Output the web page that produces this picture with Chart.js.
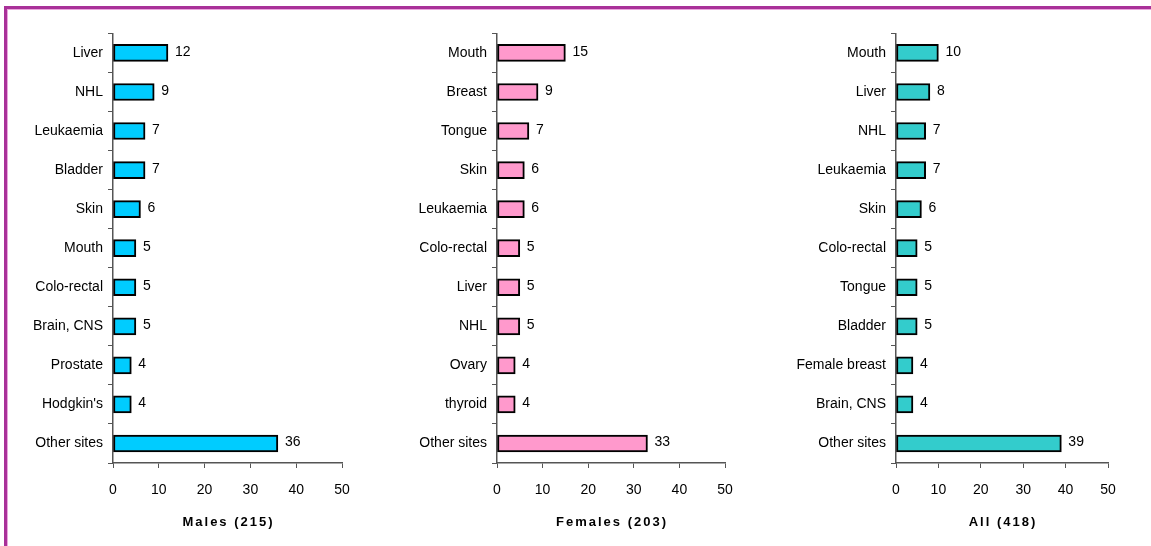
<!DOCTYPE html>
<html>
<head>
<meta charset="utf-8">
<script src="https://cdn.jsdelivr.net/npm/chart.js@4"></script>
<style>
  body { margin: 0; background: #fff; width: 1151px; height: 546px; overflow: hidden; position: relative; }
  #marco { position: absolute; left: 4px; top: 6px; width: 1160px; height: 560px;
           border-top: 3px solid #a93199; border-left: 3px solid #a93199; }
  #marco2 { position: absolute; left: 7px; top: 9px; width: 1160px; height: 560px;
            border-top: 1px solid #e9a6dc; border-left: 1px solid #e9a6dc; }
  canvas { position: absolute; top: 20px; }
</style>
</head>
<body>
<div id="marco"></div>
<div id="marco2"></div>
<canvas id="graficoHombres" width="380" height="526" style="left:10px"></canvas>
<canvas id="graficoMujeres" width="380" height="526" style="left:385px"></canvas>
<canvas id="graficoTodos" width="380" height="526" style="left:768px"></canvas>
<script>
// Datos de cada panel
const sitiosHombres = ['Liver', 'NHL', 'Leukaemia', 'Bladder', 'Skin', 'Mouth', 'Colo-rectal', 'Brain, CNS', 'Prostate', "Hodgkin's", 'Other sites'];
const valoresHombres = [12, 9, 7, 7, 6, 5, 5, 5, 4, 4, 36];

const sitiosMujeres = ['Mouth', 'Breast', 'Tongue', 'Skin', 'Leukaemia', 'Colo-rectal', 'Liver', 'NHL', 'Ovary', 'thyroid', 'Other sites'];
const valoresMujeres = [15, 9, 7, 6, 6, 5, 5, 5, 4, 4, 33];

const sitiosTodos = ['Mouth', 'Liver', 'NHL', 'Leukaemia', 'Skin', 'Colo-rectal', 'Tongue', 'Bladder', 'Female breast', 'Brain, CNS', 'Other sites'];
const valoresTodos = [10, 8, 7, 7, 6, 5, 5, 5, 4, 4, 39];

const ticksX = [0, 10, 20, 30, 40, 50];

const fuente = 'Liberation Sans, Arial, sans-serif';

// etiquetas de valor al final de cada barra + titulo del eje
const pluginEtiquetas = {
    id: 'etiquetas',
    afterDatasetsDraw(chart) {
        const ctx = chart.ctx;
        ctx.save();
        ctx.font = '14px ' + fuente;
        ctx.fillStyle = '#000';
        ctx.textAlign = 'left';
        ctx.textBaseline = 'middle';
        chart.getDatasetMeta(0).data.forEach((barra, i) => {
            ctx.fillText(chart.data.datasets[0].data[i], barra.x + 7, barra.y - 1);
        });
        ctx.restore();
    },
    afterDraw(chart) {
        const ctx = chart.ctx;
        const area = chart.chartArea;
        ctx.save();
        ctx.font = 'bold 13px ' + fuente;
        ctx.letterSpacing = '2px';
        ctx.fillStyle = '#000';
        ctx.textAlign = 'center';
        ctx.textBaseline = 'middle';
        ctx.fillText(chart.options.tituloEje, (area.left + area.right) / 2 + 1, 502);
        ctx.restore();
    }
};

function crearGrafico(id, sitios, valores, color, titulo, anchoEjeY, anchoArea) {
    const ctx = document.getElementById(id).getContext('2d');
    return new Chart(ctx, {
        type: 'bar',
        data: {
            labels: sitios,
            datasets: [{
                data: valores,
                backgroundColor: color,
                borderColor: '#000',
                borderWidth: 2,
                borderSkipped: false,
                barThickness: 17
            }]
        },
        plugins: [pluginEtiquetas],
        options: {
            tituloEje: titulo,
            indexAxis: 'y',
            responsive: false,
            animation: false,
            layout: {
                padding: { top: 13, left: 0, right: 380 - anchoEjeY - anchoArea, bottom: 0 }
            },
            plugins: {
                legend: { display: false },
                tooltip: { enabled: false }
            },
            scales: {
                x: {
                    min: 0,
                    max: 50,
                    afterFit: (escala) => { escala.height = 526 - 463 + 20; },
                    afterBuildTicks: (escala) => { escala.ticks = ticksX.map(v => ({ value: v })); },
                    ticks: {
                        color: '#000',
                        padding: 14,
                        font: { family: fuente, size: 14 }
                    },
                    grid: {
                        drawOnChartArea: false,
                        drawTicks: true,
                        tickLength: 5,
                        color: '#555'
                    },
                    border: { color: '#555', width: 1.5 }
                },
                y: {
                    afterFit: (escala) => { escala.width = anchoEjeY; },
                    ticks: {
                        color: '#000',
                        padding: 5,
                        font: { family: fuente, size: 14 }
                    },
                    grid: {
                        drawOnChartArea: false,
                        drawTicks: true,
                        tickLength: 5,
                        offset: true,
                        color: '#555'
                    },
                    border: { color: '#555', width: 1.5 }
                }
            }
        }
    });
}

crearGrafico('graficoHombres', sitiosHombres, valoresHombres, '#00ccff', 'Males (215)', 103, 229);
crearGrafico('graficoMujeres', sitiosMujeres, valoresMujeres, '#ff99cc', 'Females (203)', 112, 228);
crearGrafico('graficoTodos', sitiosTodos, valoresTodos, '#33cccc', 'All (418)', 128, 212);
</script>
</body>
</html>
